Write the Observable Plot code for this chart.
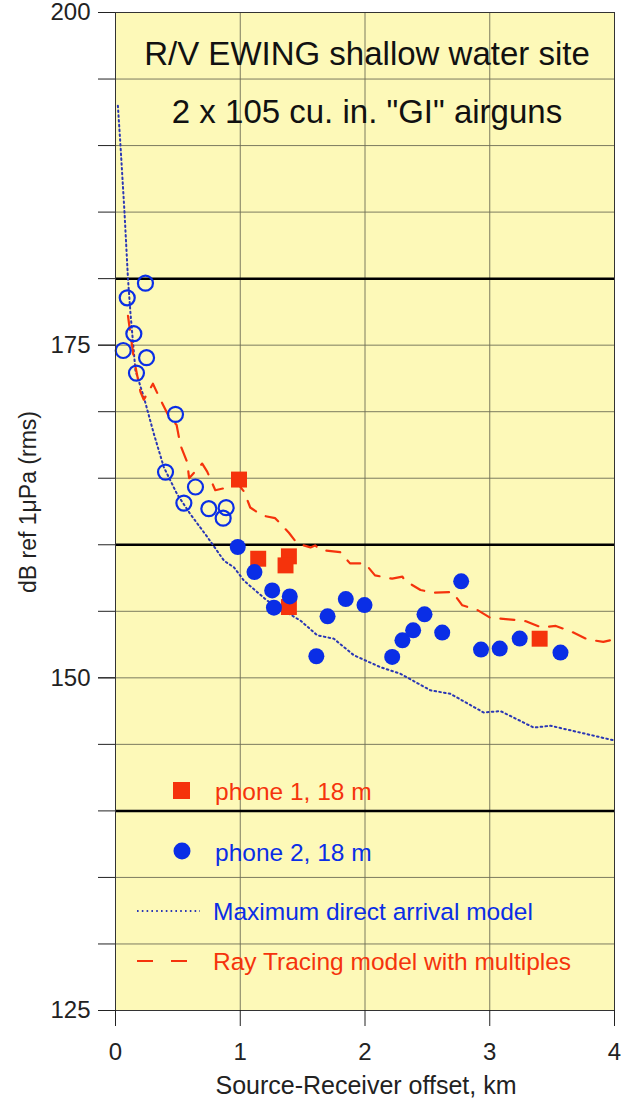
<!DOCTYPE html>
<html><head><meta charset="utf-8">
<script src="https://cdn.jsdelivr.net/npm/d3@7"></script>
<script src="https://cdn.jsdelivr.net/npm/@observablehq/plot@0.6"></script>
<style>
html,body{margin:0;padding:0;background:#fff;}
#wrap{width:621px;height:1101px;}
</style></head>
<body><div id="wrap"></div>
<script>
// ---- tick labels / structure ----
const xTicks = [0, 1, 2, 3, 4];
const yLabelTicks = [125, 150, 175, 200];
const yGridTicks = [125,130,135,140,145,150,155,160,165,170,175,180,185,190,195,200];
const thickLines = [180, 160, 140];
const titleLines = ["R/V EWING shallow water site", "2 x 105 cu. in. \"GI\" airguns"];
const xLabel = "Source-Receiver offset, km";
const yLabel = "dB ref 1\u03bcPa (rms)";
const legendLabels = ["phone 1, 18 m", "phone 2, 18 m", "Maximum direct arrival model", "Ray Tracing model with multiples"];

// ---- phone 1 (red squares) ----
const phone1X = [0.99, 1.144, 1.39, 1.363, 1.39, 3.40];
const phone1Y = [164.9, 158.95, 159.13, 158.45, 155.32, 152.94];

// ---- phone 2 (blue filled circles) ----
const phone2X = [0.98, 1.114, 1.256, 1.397, 1.27, 1.61, 1.70, 1.846, 1.996, 2.218, 2.30, 2.386, 2.477, 2.619, 2.771, 2.93, 3.08, 3.24, 3.567];
const phone2Y = [159.83, 157.95, 156.57, 156.12, 155.27, 151.62, 154.62, 155.92, 155.47, 151.57, 152.82, 153.57, 154.77, 153.4, 157.25, 152.12, 152.2, 152.95, 151.9];

// ---- near-field (blue open circles) ----
const openX = [0.24, 0.094, 0.147, 0.062, 0.249, 0.168, 0.481, 0.401, 0.641, 0.548, 0.748, 0.887, 0.863];
const openY = [179.66, 178.56, 175.86, 174.6, 174.06, 172.9, 169.8, 165.46, 164.34, 163.13, 162.71, 162.79, 162.0];

// ---- Maximum direct arrival model (dotted) ----
const directX = [0.019, 0.04, 0.072, 0.10, 0.12, 0.16, 0.227, 0.307, 0.387, 0.494, 0.60, 0.735, 0.87, 0.95, 1.03, 1.216, 1.483, 1.617, 1.75, 1.91, 2.124, 2.285, 2.525, 2.685, 2.95, 3.086, 3.353, 3.487, 3.995];
const directY = [193.0, 190.0, 185.0, 180.0, 177.4, 173.1, 171.1, 168.35, 165.84, 163.8, 162.3, 160.6, 158.8, 158.3, 157.3, 155.8, 154.3, 153.2, 152.94, 151.7, 150.8, 150.3, 149.06, 148.8, 147.4, 147.5, 146.26, 146.4, 145.3];

// ---- Ray tracing model with multiples (dashed) ----
const rayX = [0.10, 0.147, 0.20, 0.227, 0.30, 0.355, 0.43, 0.49, 0.52, 0.575, 0.59, 0.695, 0.735, 0.80, 0.895, 0.98, 1.03, 1.08, 1.176, 1.28, 1.39, 1.456, 1.563, 1.60, 1.65, 1.80, 1.88, 2.0, 2.08, 2.218, 2.30, 2.32, 2.445, 2.55, 2.70, 2.78, 2.90, 3.006, 3.15, 3.29, 3.41, 3.53, 3.66, 3.78, 3.91, 4.0];
const rayY = [177.2, 174.0, 171.5, 170.9, 172.1, 171.0, 169.6, 169.0, 167.5, 166.2, 165.0, 166.1, 165.5, 164.1, 164.3, 164.6, 164.0, 162.8, 162.2, 162.0, 160.9, 160.1, 159.8, 159.95, 159.6, 159.45, 158.6, 158.6, 157.7, 157.45, 157.6, 157.3, 156.6, 156.4, 156.45, 155.45, 155.1, 154.5, 154.4, 154.25, 153.8, 153.9, 153.45, 152.9, 152.7, 152.9];

const zip = (xs, ys) => xs.map((x, i) => ({x, y: ys[i]}));

const BG = "#fdf9b8";
const RED = "#f5330c";
const BLUE = "#0a2ee6";
const DOT = "#2b37b5";
const GRID = "#6e6e55";
const FONT = "'Liberation Sans', Arial, Helvetica, sans-serif";

const chart = Plot.plot({
  width: 621, height: 1101,
  marginLeft: 115, marginRight: 7, marginTop: 12, marginBottom: 91,
  style: {fontFamily: FONT, fontSize: "24px", color: "#222", background: "white", overflow: "visible"},
  x: {domain: [0, 4]},
  y: {domain: [125, 200]},
  marks: [
    Plot.frame({fill: BG, stroke: null}),
    Plot.gridX(xTicks, {stroke: GRID, strokeOpacity: 0.9, strokeWidth: 1}),
    Plot.gridY(yGridTicks, {stroke: GRID, strokeOpacity: 0.9, strokeWidth: 1}),
    Plot.ruleY(thickLines, {stroke: "#000", strokeWidth: 2.5}),
    Plot.line(zip(directX, directY), {x: "x", y: "y", stroke: DOT, strokeWidth: 2, strokeDasharray: "1.6,3.2"}),
    Plot.line(zip(rayX, rayY), {x: "x", y: "y", stroke: RED, strokeWidth: 2.2, strokeDasharray: "14,11"}),
    Plot.dot(zip(openX, openY), {x: "x", y: "y", r: 7.5, stroke: BLUE, strokeWidth: 2.2, fill: "none"}),
    Plot.dot(zip(phone1X, phone1Y), {x: "x", y: "y", symbol: "square", r: 9, fill: RED}),
    Plot.dot(zip(phone2X, phone2Y), {x: "x", y: "y", r: 8, fill: BLUE}),
    Plot.frame({stroke: "#333", strokeWidth: 1}),
    Plot.axisX({ticks: xTicks, tickSize: 16, tickPadding: 16, label: null, tickFormat: d => String(d)}),
    Plot.axisY({ticks: yGridTicks, tickSize: 17, tickFormat: () => "", label: null}),
    Plot.axisY({ticks: yLabelTicks, tickSize: 17, tickPadding: 8, label: null, tickFormat: d => String(d)})
  ]
});

document.getElementById("wrap").appendChild(chart);
const svg = d3.select(chart);
svg.selectAll("g[aria-label$='tick label']").attr("font-size", 24).attr("fill", "#222");
svg.selectAll("g[aria-label$='tick label'] text").attr("font-size", 24);

// Title
const titleG = svg.append("g").attr("font-family", FONT).attr("font-size", 33).attr("fill", "#111").attr("text-anchor", "middle");
titleG.append("text").attr("x", 367).attr("y", 65).text(titleLines[0]);
titleG.append("text").attr("x", 367).attr("y", 123).text(titleLines[1]);

// Axis labels
svg.append("text").attr("font-family", FONT).attr("font-size", 25).attr("fill", "#222")
  .attr("text-anchor", "middle").attr("x", 366).attr("y", 1094).text(xLabel);
svg.append("text").attr("font-family", FONT).attr("font-size", 23).attr("fill", "#222")
  .attr("text-anchor", "middle").attr("transform", "translate(36,502) rotate(-90)").text(yLabel);

// Legend
const lg = svg.append("g").attr("font-family", FONT).attr("font-size", 24.5).attr("text-anchor", "start");
lg.append("rect").attr("x", 173).attr("y", 782).attr("width", 17).attr("height", 17).attr("fill", RED);
lg.append("text").attr("x", 215).attr("y", 800).attr("fill", RED).text(legendLabels[0]);
lg.append("circle").attr("cx", 182).attr("cy", 851).attr("r", 8.5).attr("fill", BLUE);
lg.append("text").attr("x", 215).attr("y", 861).attr("fill", BLUE).text(legendLabels[1]);
lg.append("line").attr("x1", 137).attr("x2", 200).attr("y1", 911).attr("y2", 911)
  .attr("stroke", DOT).attr("stroke-width", 2).attr("stroke-dasharray", "1.6,3.2");
lg.append("text").attr("x", 213).attr("y", 920).attr("fill", BLUE).text(legendLabels[2]);
lg.append("line").attr("x1", 137).attr("x2", 188).attr("y1", 961).attr("y2", 961)
  .attr("stroke", RED).attr("stroke-width", 2.2).attr("stroke-dasharray", "16,18");
lg.append("text").attr("x", 213).attr("y", 970).attr("fill", RED).text(legendLabels[3]);
</script>
</body></html>
